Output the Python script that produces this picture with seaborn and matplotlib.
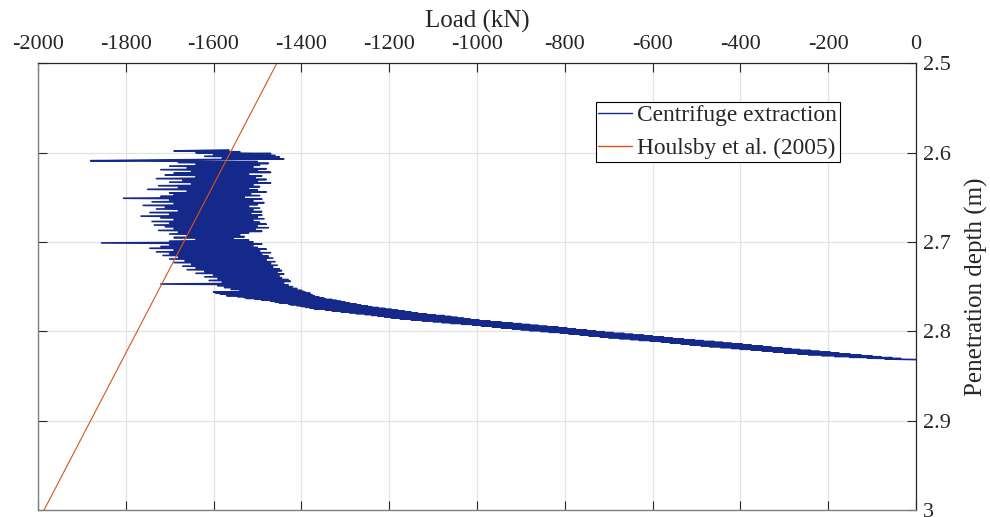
import matplotlib
matplotlib.use("Agg")
import matplotlib.pyplot as plt
import seaborn as sns
import pandas as pd

# ---------------- data ----------------
x_ticks = [-2000, -1800, -1600, -1400, -1200, -1000, -800, -600, -400, -200, 0]
y_ticks = [2.5, 2.6, 2.7, 2.8, 2.9, 3.0]
y_tick_labels = ["2.5", "2.6", "2.7", "2.8", "2.9", "3"]

# Centrifuge extraction – noisy plateau (depth in m, load in kN)
plateau_depth = [
    2.597, 2.598, 2.599, 2.600, 2.601, 2.602, 2.603, 2.604, 2.605, 2.606,
    2.607, 2.608, 2.609, 2.610, 2.611, 2.612, 2.613, 2.614, 2.615, 2.616,
    2.617, 2.618, 2.619, 2.620, 2.621, 2.622, 2.623, 2.624, 2.625, 2.626,
    2.627, 2.628, 2.629, 2.630, 2.631, 2.632, 2.633, 2.634, 2.635, 2.636,
    2.637, 2.638, 2.639, 2.640, 2.641, 2.642, 2.643, 2.644, 2.645, 2.646,
    2.647, 2.648, 2.649, 2.650, 2.651, 2.652, 2.653, 2.654, 2.655, 2.656,
    2.657, 2.658, 2.659, 2.660, 2.661, 2.662, 2.663, 2.664, 2.665, 2.666,
    2.667, 2.668, 2.669, 2.670, 2.671, 2.672, 2.673, 2.674, 2.675, 2.676,
    2.677, 2.678, 2.679, 2.680, 2.681, 2.682, 2.683, 2.684, 2.685, 2.686,
    2.687, 2.688, 2.689, 2.690, 2.691, 2.692, 2.693, 2.694, 2.695, 2.696,
    2.697, 2.698, 2.699, 2.700, 2.701, 2.702, 2.703, 2.704, 2.705, 2.706,
    2.707, 2.708, 2.709, 2.710, 2.711, 2.712, 2.713, 2.714, 2.715, 2.716,
    2.717, 2.718, 2.719, 2.720, 2.721, 2.722, 2.723, 2.724, 2.725, 2.726,
    2.727, 2.728, 2.729, 2.730, 2.731, 2.732, 2.733, 2.734, 2.735, 2.736,
    2.737, 2.738, 2.739, 2.740, 2.741, 2.742, 2.743, 2.744, 2.745, 2.746,
    2.747, 2.748, 2.749, 2.750, 2.751, 2.752, 2.753, 2.754, 2.755,
]
plateau_load = [
    -1565, -1690, -1540, -1640, -1470, -1600, -1460, -1620, -1450, -1580,
    -1440, -1700, -1880, -1500, -1680, -1475, -1640, -1495, -1700, -1510,
    -1660, -1480, -1720, -1500, -1650, -1470, -1690, -1520, -1710, -1490,
    -1640, -1505, -1730, -1480, -1670, -1500, -1700, -1470, -1650, -1510,
    -1725, -1495, -1680, -1520, -1750, -1500, -1660, -1480, -1700, -1515,
    -1690, -1495, -1720, -1530, -1805, -1490, -1700, -1510, -1740, -1485,
    -1690, -1500, -1760, -1520, -1710, -1495, -1730, -1510, -1680, -1490,
    -1745, -1515, -1700, -1490, -1765, -1500, -1720, -1485, -1690, -1510,
    -1740, -1495, -1700, -1480, -1735, -1500, -1710, -1475, -1690, -1505,
    -1725, -1490, -1680, -1520, -1700, -1540, -1660, -1530, -1690, -1555,
    -1640, -1520, -1700, -1510, -1855, -1490, -1700, -1510, -1720, -1500,
    -1745, -1480, -1690, -1495, -1730, -1470, -1700, -1490, -1715, -1475,
    -1680, -1465, -1700, -1480, -1665, -1460, -1690, -1470, -1650, -1455,
    -1670, -1465, -1640, -1450, -1660, -1445, -1620, -1455, -1640, -1440,
    -1600, -1450, -1620, -1445, -1590, -1430, -1610, -1425, -1580, -1440,
    -1720, -1430, -1590, -1420, -1575, -1410, -1560, -1400, -1540,
]

# Centrifuge extraction – sloping part down to zero load
slope_depth = [
    2.7555, 2.7560, 2.7565, 2.7570, 2.7575, 2.7580, 2.7585, 2.7590, 2.7595, 2.7600,
    2.7605, 2.7610, 2.7615, 2.7620, 2.7625, 2.7630, 2.7635, 2.7640, 2.7645, 2.7650,
    2.7655, 2.7660, 2.7665, 2.7670, 2.7675, 2.7680, 2.7685, 2.7690, 2.7695, 2.7700,
    2.7705, 2.7710, 2.7715, 2.7720, 2.7725, 2.7730, 2.7735, 2.7740, 2.7745, 2.7750,
    2.7755, 2.7760, 2.7765, 2.7770, 2.7775, 2.7780, 2.7785, 2.7790, 2.7795, 2.7800,
    2.7805, 2.7810, 2.7815, 2.7820, 2.7825, 2.7830, 2.7835, 2.7840, 2.7845, 2.7850,
    2.7855, 2.7860, 2.7865, 2.7870, 2.7875, 2.7880, 2.7885, 2.7890, 2.7895, 2.7900,
    2.7905, 2.7910, 2.7915, 2.7920, 2.7925, 2.7930, 2.7935, 2.7940, 2.7945, 2.7950,
    2.7955, 2.7960, 2.7965, 2.7970, 2.7975, 2.7980, 2.7985, 2.7990, 2.7995, 2.8000,
    2.8005, 2.8010, 2.8015, 2.8020, 2.8025, 2.8030, 2.8035, 2.8040, 2.8045, 2.8050,
    2.8055, 2.8060, 2.8065, 2.8070, 2.8075, 2.8080, 2.8085, 2.8090, 2.8095, 2.8100,
    2.8105, 2.8110, 2.8115, 2.8120, 2.8125, 2.8130, 2.8135, 2.8140, 2.8145, 2.8150,
    2.8155, 2.8160, 2.8165, 2.8170, 2.8175, 2.8180, 2.8185, 2.8190, 2.8195, 2.8200,
    2.8205, 2.8210, 2.8215, 2.8220, 2.8225, 2.8230, 2.8235, 2.8240, 2.8245, 2.8250,
    2.8255, 2.8260, 2.8265, 2.8270, 2.8275, 2.8280, 2.8285, 2.8290, 2.8295, 2.8300,
    2.8305, 2.8310, 2.8316,
]
slope_load = [
    -1395, -1600, -1390, -1595, -1380, -1585, -1385, -1560, -1375, -1570,
    -1370, -1545, -1360, -1530, -1350, -1525, -1345, -1505, -1330, -1490,
    -1320, -1470, -1310, -1460, -1300, -1450, -1290, -1430, -1275, -1425,
    -1265, -1410, -1250, -1400, -1240, -1390, -1225, -1380, -1210, -1370,
    -1195, -1345, -1180, -1330, -1165, -1310, -1150, -1290, -1135, -1275,
    -1115, -1255, -1095, -1240, -1075, -1225, -1060, -1210, -1045, -1195,
    -1030, -1175, -1015, -1150, -995, -1125, -970, -1100, -945, -1080,
    -920, -1060, -900, -1035, -880, -1010, -860, -990, -840, -965,
    -815, -945, -795, -920, -775, -900, -750, -880, -730, -855,
    -710, -835, -690, -810, -665, -790, -645, -765, -620, -745,
    -600, -720, -575, -700, -555, -675, -530, -650, -505, -630,
    -485, -605, -460, -580, -440, -560, -420, -535, -395, -515,
    -375, -490, -350, -470, -330, -445, -305, -420, -285, -400,
    -265, -375, -240, -350, -220, -325, -195, -300, -175, -270,
    -150, -245, -125, -215, -100, -185, -80, -150, -55, -110,
    -35, -70, 0,
]

# Houlsby et al. (2005) prediction line
houlsby_depth = [2.5, 3.0]
houlsby_load = [-1456, -1986]

# ---------------- plotting ----------------
sns.set_style("white")
plt.rcParams["font.family"] = ["Liberation Serif", "DejaVu Serif"]

fig = plt.figure(figsize=(9.9, 5.17), dpi=100)
ax = fig.add_axes([0.0383, 0.01354, 0.9252 - 0.0383, 0.8774 - 0.01354])

centrifuge = pd.DataFrame({
    "load": plateau_load + slope_load,
    "depth": plateau_depth + slope_depth,
})
houlsby = pd.DataFrame({"load": houlsby_load, "depth": houlsby_depth})

sns.lineplot(data=centrifuge, x="load", y="depth", sort=False, estimator=None,
             color="#15298a", linewidth=1.2, ax=ax, label="Centrifuge extraction")
sns.lineplot(data=houlsby, x="load", y="depth", sort=False, estimator=None,
             color="#D95319", linewidth=0.8, ax=ax, label="Houlsby et al. (2005)")

ax.set_xlim(-2000, 0)
ax.set_ylim(3.0, 2.5)
ax.set_xticks(x_ticks)
ax.set_xticklabels([str(v) for v in x_ticks])
ax.set_yticks(y_ticks)
ax.set_yticklabels(y_tick_labels)

ax.xaxis.set_label_position("top")
ax.yaxis.set_label_position("right")
ax.set_xlabel("Load (kN)", fontsize=18, labelpad=5)
ax.set_ylabel("Penetration depth (m)", fontsize=18, labelpad=10)

ax.tick_params(axis="both", which="both", direction="in", length=6.5, width=0.8,
               color="#262626", labelsize=16, labelcolor="#262626",
               top=True, bottom=True, left=True, right=True,
               labeltop=True, labelbottom=False, labelleft=False, labelright=True)
ax.tick_params(axis="x", pad=7)
ax.tick_params(axis="y", pad=5)

ax.grid(True, color="#e3e3e3", linewidth=0.9)
ax.set_axisbelow(True)

for side in ["top", "right"]:
    ax.spines[side].set_color("#262626")
    ax.spines[side].set_linewidth(0.9)
for side in ["bottom", "left"]:
    ax.spines[side].set_color("#808080")
    ax.spines[side].set_linewidth(1.0)

leg = ax.legend(loc="upper right", bbox_to_anchor=(0.913, 0.913), fontsize=16.8,
                frameon=True, fancybox=False, framealpha=1, edgecolor="black",
                borderpad=0.12, handlelength=1.45, handletextpad=0.2,
                labelspacing=0.5, borderaxespad=0)
leg.get_frame().set_linewidth(0.8)
for line in leg.get_lines():
    line.set_linewidth(1.0)

fig.savefig("out.png", dpi=100)
